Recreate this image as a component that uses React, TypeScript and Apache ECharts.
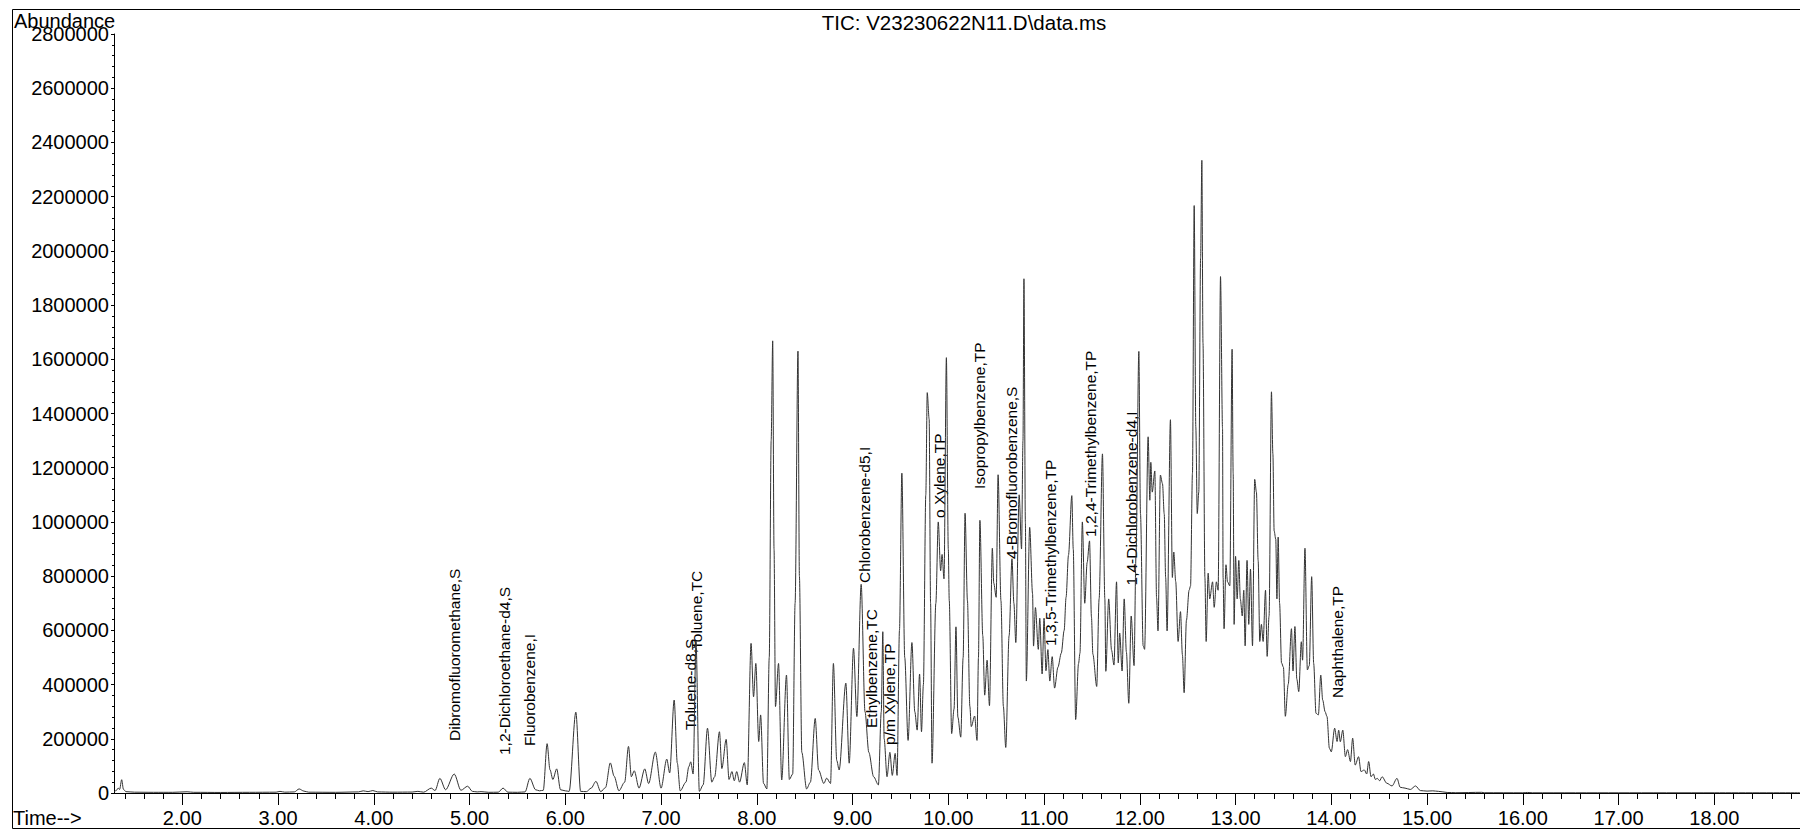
import React, { useEffect, useRef } from "react";
import * as echarts from "echarts";

const TITLE = "TIC: V23230622N11.D\\data.ms";
const Y_LABEL = "Abundance";
const X_LABEL = "Time-->";

const X_MIN = 1.2867;
const X_MAX = 18.895;
const Y_MAX = 2800000;
const Y_STEP = 200000;
const X_MAJOR_TICKS = [2, 3, 4, 5, 6, 7, 8, 9, 10, 11, 12, 13, 14, 15, 16, 17, 18];

// retention time (min), abundance
const TRACE_BASELINE = [
  [1.287, 4000], [1.31, 9000], [1.33, 18000], [1.345, 13000], [1.367, 49000], [1.385, 14000], [1.41, 5000],
  [1.5, 3000], [1.7, 2500], [1.9, 2500], [2.05, 4500], [2.12, 2500], [2.4, 2000], [2.7, 2500], [2.98, 3000],
  [3.02, 6000], [3.07, 3000], [3.17, 4000], [3.22, 15000], [3.27, 7000], [3.32, 3000], [3.6, 2500], [3.84, 4000],
  [3.89, 8000], [3.94, 5000], [3.99, 9000], [4.04, 4000], [4.2, 3000], [4.4, 3500],
];
const TRACE_EARLY = [
  [4.46, 6000], [4.52, 3000], [4.6, 18000], [4.64, 9000], [4.69, 54000], [4.75, 12000], [4.84, 70000], [4.91, 10000],
  [4.98, 25000], [5.03, 6000], [5.08, 4000], [5.12, 5000], [5.2, 2500], [5.3, 3000], [5.35, 18000], [5.4, 3000],
  [5.5, 2500], [5.58, 4000], [5.63, 54000], [5.69, 12000], [5.73, 8000], [5.77, 10000], [5.81, 182000], [5.84, 86000],
  [5.87, 50000], [5.91, 89000], [5.95, 12000], [6.0, 8000], [6.04, 6000], [6.11, 298000], [6.16, 6000], [6.22, 5000],
  [6.27, 18000], [6.32, 43000], [6.37, 5000], [6.42, 20000], [6.47, 111000], [6.51, 62000], [6.56, 8000], [6.62, 40000],
  [6.66, 172000], [6.69, 60000], [6.72, 82000], [6.77, 18000], [6.83, 89000], [6.87, 35000], [6.94, 151000], [7.0, 18000],
  [7.06, 125000], [7.09, 74000], [7.137, 343000], [7.17, 110000], [7.2, 8000], [7.26, 40000], [7.29, 97000], [7.31, 115000],
  [7.335, 70000], [7.365, 560000], [7.4, 6000],
];
const TRACE_MID = [
  [7.44, 30000], [7.485, 239000], [7.53, 40000], [7.56, 60000], [7.61, 226000], [7.635, 90000], [7.68, 198000],
  [7.71, 50000], [7.74, 79000], [7.765, 45000], [7.79, 79000], [7.82, 40000], [7.87, 112000], [7.9, 30000],
  [7.94, 552000], [7.966, 355000], [7.99, 478000], [8.02, 190000], [8.04, 288000], [8.07, 36000], [8.105, 15000],
  [8.13, 500000], [8.15, 1300000], [8.166, 1668000], [8.18, 900000], [8.195, 319000], [8.227, 478000], [8.26, 48000],
  [8.31, 435000], [8.34, 50000], [8.375, 70000], [8.4, 700000], [8.43, 1630000], [8.445, 800000], [8.47, 150000],
  [8.52, 15000], [8.56, 40000], [8.61, 275000], [8.645, 85000], [8.7, 35000], [8.73, 55000], [8.77, 35000],
  [8.8, 478000], [8.835, 120000], [8.86, 85000], [8.93, 405000], [8.965, 110000], [9.01, 534000], [9.045, 282000],
  [9.09, 770000], [9.13, 300000], [9.17, 150000], [9.22, 60000], [9.27, 30000], [9.3, 300000], [9.316, 595000],
  [9.33, 200000], [9.36, 60000], [9.39, 150000], [9.415, 65000], [9.445, 146000], [9.465, 65000], [9.49, 600000],
  [9.515, 1180000], [9.545, 500000], [9.58, 194000],
];
const TRACE_MAIN_A = [
  [9.62, 555000], [9.65, 300000], [9.675, 232000], [9.7, 439000], [9.72, 226000], [9.74, 400000], [9.765, 1100000],
  [9.78, 1477000], [9.8, 1380000], [9.815, 700000], [9.83, 110000], [9.87, 700000], [9.895, 1000000], [9.92, 820000],
  [9.935, 880000], [9.955, 790000], [9.98, 1606000], [10.0, 900000], [10.01, 710000], [10.035, 219000], [10.06, 310000],
  [10.08, 613000], [10.1, 280000], [10.13, 206000], [10.155, 500000], [10.175, 1032000], [10.2, 709000], [10.225, 320000],
  [10.24, 245000], [10.275, 284000], [10.3, 194000], [10.315, 500000], [10.33, 1006000], [10.36, 580000], [10.38, 361000],
  [10.405, 490000], [10.43, 322000], [10.46, 903000], [10.475, 774000], [10.5, 722000], [10.52, 1174000], [10.55, 709000],
  [10.575, 320000], [10.6, 168000], [10.635, 580000], [10.665, 864000], [10.685, 700000], [10.705, 555000], [10.74, 1100000],
  [10.765, 900000], [10.78, 1300000], [10.79, 1897000], [10.805, 1000000], [10.815, 413000], [10.85, 980000], [10.88, 735000],
  [10.89, 542000], [10.91, 684000], [10.94, 530000], [10.955, 645000], [10.98, 439000], [11.0, 645000], [11.02, 451000],
  [11.04, 529000], [11.06, 413000], [11.085, 503000], [11.11, 387000], [11.145, 464000], [11.18, 516000], [11.21, 600000],
  [11.23, 722000], [11.255, 877000], [11.29, 1097000], [11.305, 900000], [11.33, 271000], [11.36, 477000], [11.375, 516000],
  [11.4, 1000000], [11.425, 700000], [11.45, 850000], [11.475, 930000], [11.495, 650000], [11.51, 512000], [11.55, 393000],
  [11.575, 716000],
];
const TRACE_MAIN_B = [
  [11.61, 1251000], [11.635, 716000], [11.645, 449000], [11.675, 716000], [11.705, 527000], [11.73, 472000], [11.757, 779000],
  [11.775, 480000], [11.79, 590000], [11.815, 450000], [11.837, 716000], [11.86, 520000], [11.885, 331000], [11.91, 653000],
  [11.94, 470000], [11.96, 873000], [11.99, 1629000], [12.007, 1030000], [12.035, 543000], [12.05, 530000], [12.087, 1314000],
  [12.105, 1080000], [12.115, 1220000], [12.13, 1110000], [12.157, 1188000], [12.175, 720000], [12.19, 598000], [12.215, 1173000],
  [12.237, 1141000], [12.255, 1030000], [12.27, 795000], [12.285, 598000], [12.32, 1377000], [12.34, 795000], [12.355, 889000],
  [12.375, 780000], [12.4, 559000], [12.425, 669000], [12.445, 510000], [12.463, 370000], [12.487, 637000], [12.515, 748000],
  [12.53, 764000], [12.55, 1180000], [12.568, 2167000], [12.585, 1350000], [12.6, 1031000], [12.616, 1110000], [12.635, 1975000],
  [12.648, 2334000], [12.66, 1660000], [12.68, 795000], [12.693, 559000], [12.714, 811000], [12.73, 716000], [12.76, 779000],
  [12.777, 685000], [12.8, 779000], [12.818, 748000], [12.843, 1905000], [12.864, 1346000], [12.87, 795000], [12.88, 606000],
  [12.9, 842000], [12.916, 779000], [12.94, 764000], [12.964, 1637000], [12.975, 1180000], [12.985, 622000], [13.0, 873000],
  [13.017, 716000], [13.034, 858000], [13.05, 716000], [13.07, 653000], [13.086, 748000], [13.1, 543000], [13.12, 858000],
  [13.138, 622000], [13.156, 826000], [13.177, 543000], [13.2, 1157000], [13.218, 1110000], [13.236, 858000], [13.253, 559000],
  [13.27, 622000], [13.288, 559000], [13.313, 748000], [13.33, 504000], [13.35, 653000], [13.375, 1480000], [13.39, 1251000],
  [13.403, 967000], [13.42, 936000], [13.432, 716000], [13.445, 944000], [13.46, 700000], [13.48, 480000], [13.5, 464000],
  [13.52, 283000], [13.55, 401000], [13.584, 606000],
];
const TRACE_TAIL = [
  [13.6, 450000], [13.62, 614000], [13.64, 420000], [13.66, 374000], [13.687, 558000], [13.7, 490000], [13.725, 903000],
  [13.75, 454000], [13.77, 470000], [13.795, 798000], [13.816, 478000], [13.84, 294000], [13.865, 288000], [13.89, 435000],
  [13.91, 343000], [13.935, 300000], [13.955, 282000], [13.98, 165000], [14.0, 152000], [14.035, 239000], [14.06, 190000],
  [14.077, 232000], [14.094, 189000], [14.12, 232000], [14.147, 134000], [14.17, 160000], [14.2, 116000], [14.223, 202000],
  [14.25, 103000], [14.285, 134000], [14.31, 79000], [14.345, 85000], [14.37, 70000], [14.39, 116000], [14.415, 60000],
  [14.44, 70000], [14.46, 50000], [14.48, 54000], [14.505, 45000], [14.53, 60000], [14.58, 36000], [14.634, 26000],
  [14.686, 54000], [14.72, 21000], [14.77, 18000], [14.825, 13000], [14.88, 26000], [14.93, 9000], [15.0, 7000],
  [15.06, 8000], [15.12, 6000], [15.21, 2000], [15.3, 1000], [15.57, 2500], [15.6, 1000], [16.0, 800], [16.05, 2000],
  [16.1, 800], [17.0, 800], [18.0, 800], [18.895, 800],
];

const PEAK_LABELS = [
  "Dibromofluoromethane,S", "1,2-Dichloroethane-d4,S", "Fluorobenzene,I", "Toluene-d8,S", "Toluene,TC",
  "Chlorobenzene-d5,I", "Ethylbenzene,TC", "p/m Xylene,TP", "o Xylene,TP", "Isopropylbenzene,TP",
  "4-Bromofluorobenzene,S", "1,3,5-Trimethylbenzene,TP", "1,2,4-Trimethylbenzene,TP", "1,4-Dichlorobenzene-d4,I",
  "Naphthalene,TP",
];
const PEAK_LABEL_TIMES = [4.843, 5.36, 5.631, 7.31, 7.372, 9.12, 9.2, 9.391, 9.913, 10.331, 10.665, 11.067, 11.487, 11.911, 14.066];
const PEAK_LABEL_BASES = [191900, 140200, 173400, 232500, 527700, 774900, 239900, 177100, 1014800, 1121800, 863500, 542400, 944600, 765700, 350600];

const FONT = "'Liberation Sans', Arial, Helvetica, sans-serif";

export default function App() {
  const ref = useRef<HTMLDivElement>(null);

  useEffect(() => {
    if (!ref.current) return;
    const chart = echarts.init(ref.current, undefined, { renderer: "svg" });
    const trace = [...TRACE_BASELINE, ...TRACE_EARLY, ...TRACE_MID, ...TRACE_MAIN_A, ...TRACE_MAIN_B, ...TRACE_TAIL];
    const minorTicks: number[] = [];
    for (let k = 1; k <= 18; k++) {
      for (let j = 1; j <= 4; j++) {
        const v = Math.round((k + j * 0.2) * 10) / 10;
        if (v > X_MIN && v < X_MAX) minorTicks.push(v);
      }
    }
    const option: any = {
      animation: false,
      backgroundColor: "#fff",
      textStyle: { fontFamily: FONT },
      grid: { left: 114, right: 0, top: 34, bottom: 37, containLabel: false },
      xAxis: [
        {
          type: "value",
          min: X_MIN,
          max: X_MAX,
          axisLine: { show: true, lineStyle: { color: "#000", width: 1 } },
          axisTick: { show: true, customValues: X_MAJOR_TICKS, length: 12, lineStyle: { color: "#000" } },
          axisLabel: {
            show: true,
            customValues: X_MAJOR_TICKS,
            formatter: (v: number) => v.toFixed(2),
            fontSize: 20,
            color: "#000",
            fontFamily: FONT,
            margin: 15,
          },
          splitLine: { show: false },
        },
        {
          type: "value",
          min: X_MIN,
          max: X_MAX,
          position: "bottom",
          axisLine: { show: false },
          axisTick: { show: true, customValues: minorTicks, length: 6, lineStyle: { color: "#000" } },
          axisLabel: { show: false },
          splitLine: { show: false },
        },
      ],
      yAxis: {
        type: "value",
        min: 0,
        max: Y_MAX,
        interval: Y_STEP,
        axisLine: { show: true, lineStyle: { color: "#000", width: 1 } },
        axisTick: { show: true, length: 3, lineStyle: { color: "#000" } },
        minorTick: { show: true, splitNumber: 5, length: 2, lineStyle: { color: "#000" } },
        axisLabel: { fontSize: 20, color: "#000", fontFamily: FONT, margin: 5, formatter: (v: number) => String(v) },
        splitLine: { show: false },
      },
      series: [
        {
          type: "line",
          xAxisIndex: 0,
          data: trace,
          symbol: "none",
          showSymbol: false,
          smooth: 0.3,
          smoothMonotone: "x",
          lineStyle: { color: "#333", width: 1 },
          silent: true,
        },
      ],
    };
    chart.setOption(option);

    const labelEls = PEAK_LABELS.map((name, i) => {
      const p = chart.convertToPixel({ gridIndex: 0 }, [PEAK_LABEL_TIMES[i], PEAK_LABEL_BASES[i]]) as number[];
      return {
        type: "text",
        x: p[0],
        y: p[1],
        rotation: Math.PI / 2,
        style: { text: name, fontSize: 15.5, fontFamily: FONT, fill: "#000", align: "left", verticalAlign: "middle" },
        silent: true,
      };
    });

    chart.setOption({
      graphic: [
        {
          type: "rect",
          shape: { x: 12.5, y: 9.5, width: 1800, height: 819 },
          style: { fill: "none", stroke: "#000", lineWidth: 1 },
          silent: true,
          z: -1,
        },
        {
          type: "text",
          x: 964,
          y: 22,
          style: { text: TITLE, fontSize: 20.5, fontFamily: FONT, fill: "#000", align: "center", verticalAlign: "middle" },
        },
        {
          type: "text",
          x: 14,
          y: 21,
          style: { text: Y_LABEL, fontSize: 20, fontFamily: FONT, fill: "#000", align: "left", verticalAlign: "middle" },
        },
        {
          type: "text",
          x: 13,
          y: 818,
          style: { text: X_LABEL, fontSize: 20, fontFamily: FONT, fill: "#000", align: "left", verticalAlign: "middle" },
        },
        ...labelEls,
      ],
    });

    return () => chart.dispose();
  }, []);

  return (
    <div
      ref={ref}
      style={{ position: "fixed", left: 0, top: 0, width: 1800, height: 830, background: "#fff" }}
    />
  );
}
